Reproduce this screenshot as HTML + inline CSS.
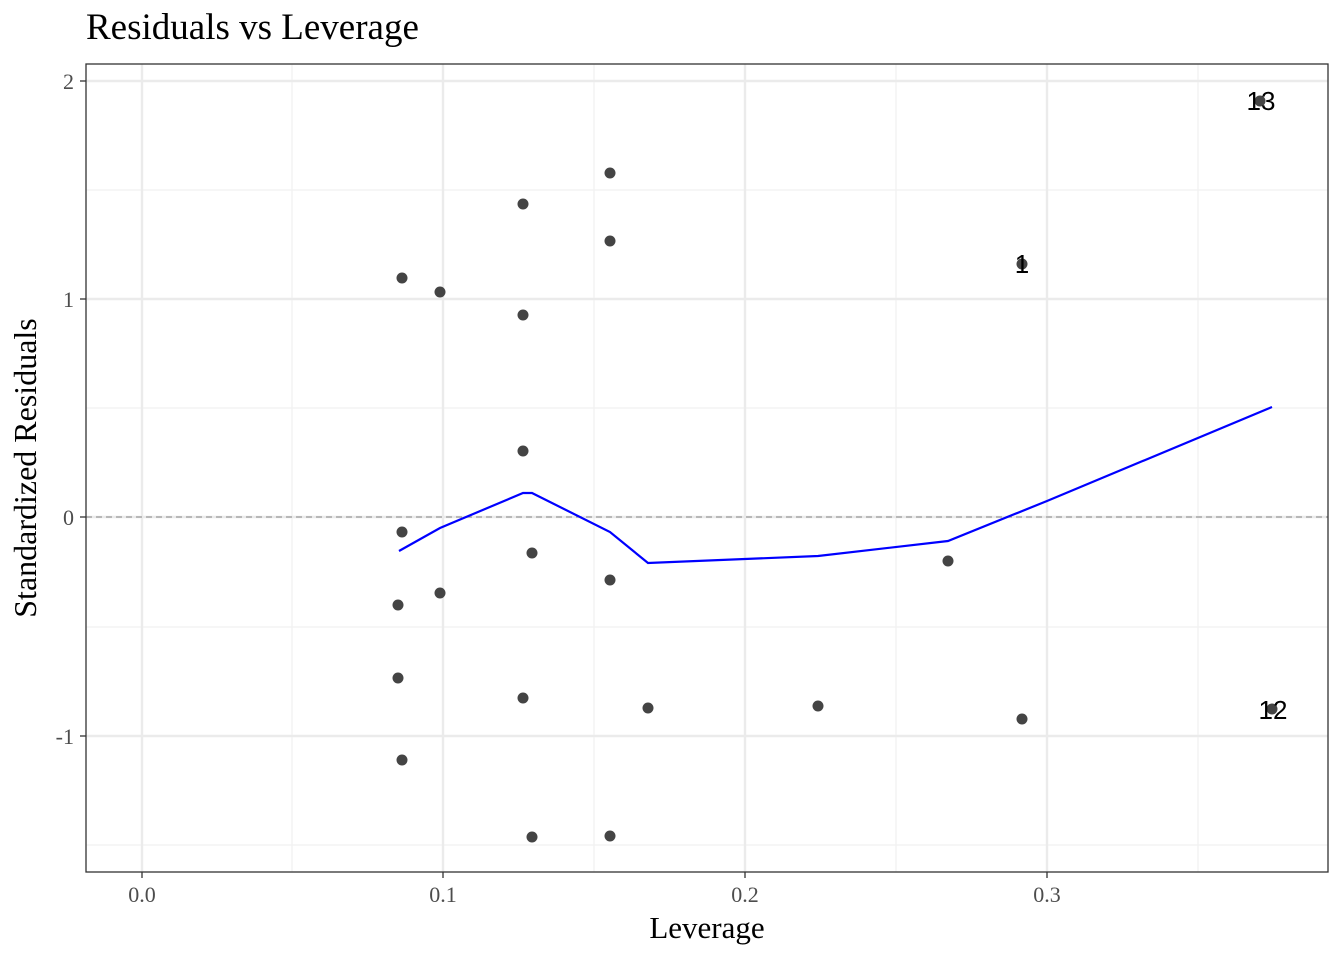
<!DOCTYPE html>
<html><head><style>body{margin:0;background:#fff}svg{display:block}</style></head><body>
<svg width="1344" height="960" xmlns="http://www.w3.org/2000/svg" font-family="Liberation Serif, serif">
<text x="86" y="39" font-size="37" fill="#000">Residuals vs Leverage</text>
<g stroke="#f1f1f1" stroke-width="1.2">
<line x1="292" y1="64" x2="292" y2="872"/><line x1="594" y1="64" x2="594" y2="872"/><line x1="896" y1="64" x2="896" y2="872"/><line x1="1198" y1="64" x2="1198" y2="872"/>
<line x1="86" y1="190" x2="1328" y2="190"/><line x1="86" y1="408" x2="1328" y2="408"/><line x1="86" y1="627" x2="1328" y2="627"/><line x1="86" y1="845" x2="1328" y2="845"/>
</g>
<g stroke="#ebebeb" stroke-width="2.4">
<line x1="142" y1="64" x2="142" y2="872"/><line x1="443" y1="64" x2="443" y2="872"/><line x1="745" y1="64" x2="745" y2="872"/><line x1="1047" y1="64" x2="1047" y2="872"/>
<line x1="86" y1="81" x2="1328" y2="81"/><line x1="86" y1="299" x2="1328" y2="299"/><line x1="86" y1="517" x2="1328" y2="517"/><line x1="86" y1="736" x2="1328" y2="736"/>
</g>
<line x1="86" y1="517" x2="1328" y2="517" stroke="#999" stroke-width="1.3" stroke-dasharray="6,4"/>
<g fill="#444">
<circle cx="610" cy="173" r="5.5"/><circle cx="523" cy="204" r="5.5"/><circle cx="610" cy="241" r="5.5"/><circle cx="402" cy="278" r="5.5"/><circle cx="440" cy="292" r="5.5"/><circle cx="523" cy="315" r="5.5"/><circle cx="523" cy="451" r="5.5"/><circle cx="402" cy="532" r="5.5"/><circle cx="532" cy="553" r="5.5"/><circle cx="610" cy="580" r="5.5"/><circle cx="948" cy="561" r="5.5"/><circle cx="398" cy="605" r="5.5"/><circle cx="440" cy="593" r="5.5"/><circle cx="398" cy="678" r="5.5"/><circle cx="523" cy="698" r="5.5"/><circle cx="648" cy="708" r="5.5"/><circle cx="818" cy="706" r="5.5"/><circle cx="1022" cy="719" r="5.5"/><circle cx="402" cy="760" r="5.5"/><circle cx="532" cy="837" r="5.5"/><circle cx="610" cy="836" r="5.5"/><circle cx="1260" cy="101" r="5.5"/><circle cx="1022" cy="264" r="5.5"/><circle cx="1272" cy="709" r="5.5"/>
</g>
<polyline fill="none" stroke="#0000ff" stroke-width="2.2" points="399,551 440,528 523,493 532,493 610,532 648,563 818,556 948,541 1047,501 1272,407"/>
<g font-family="Liberation Sans, sans-serif" font-size="26" fill="#000" text-anchor="middle">
<text x="1261" y="110">13</text><text x="1022" y="273">1</text><text x="1273" y="719">12</text>
</g>
<rect x="86" y="64" width="1242" height="808" fill="none" stroke="#333" stroke-width="1.3"/>
<g stroke="#333" stroke-width="1.3">
<line x1="142" y1="872" x2="142" y2="878"/><line x1="443" y1="872" x2="443" y2="878"/><line x1="745" y1="872" x2="745" y2="878"/><line x1="1047" y1="872" x2="1047" y2="878"/>
<line x1="80" y1="81" x2="86" y2="81"/><line x1="80" y1="299" x2="86" y2="299"/><line x1="80" y1="517" x2="86" y2="517"/><line x1="80" y1="736" x2="86" y2="736"/>
</g>
<g font-size="22" fill="#4d4d4d" text-anchor="middle">
<text x="142" y="902">0.0</text><text x="443" y="902">0.1</text><text x="745" y="902">0.2</text><text x="1047" y="902">0.3</text>
</g>
<g font-size="22" fill="#4d4d4d" text-anchor="end">
<text x="74" y="89">2</text><text x="74" y="307">1</text><text x="74" y="525">0</text><text x="74" y="744">-1</text>
</g>
<text x="707" y="938" font-size="31" text-anchor="middle">Leverage</text>
<text transform="translate(36,468) rotate(-90)" font-size="32" text-anchor="middle">Standardized Residuals</text>
</svg>
</body></html>
